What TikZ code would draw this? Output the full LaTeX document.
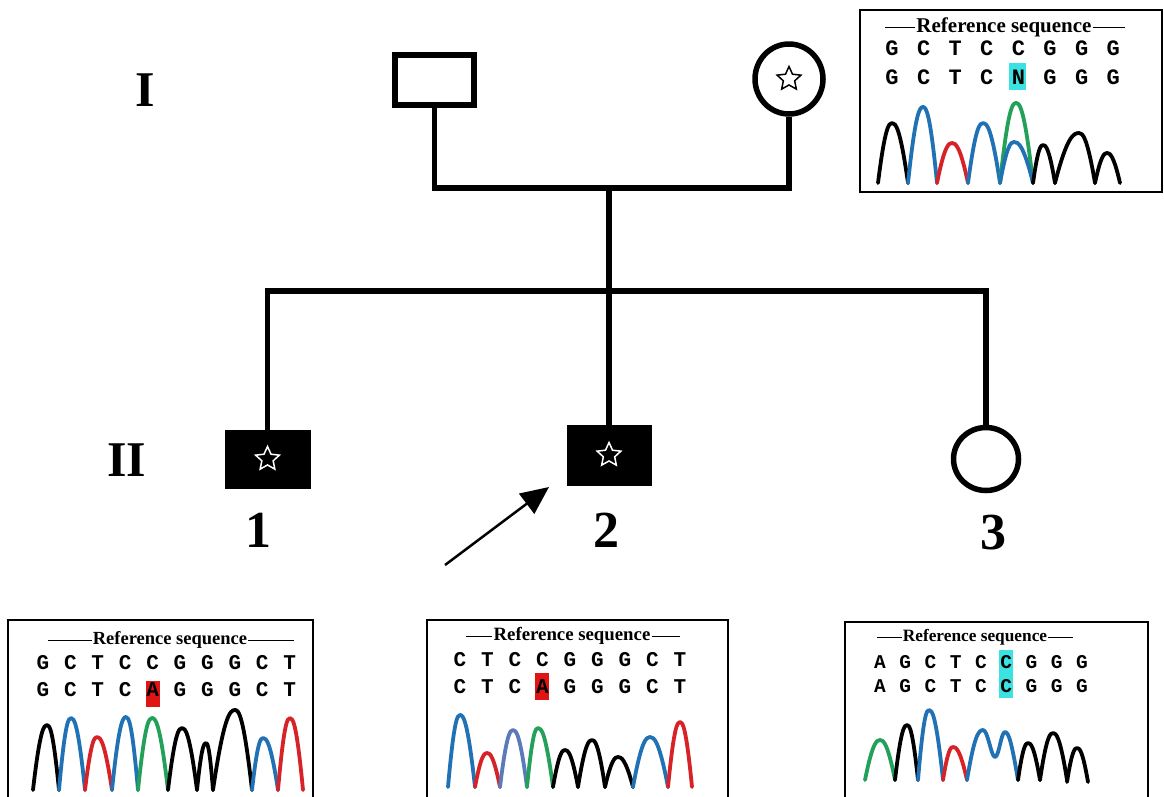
\documentclass[tikz,border=0pt]{standalone}
\usepackage{fontspec}
\setmainfont{Liberation Serif}
\newfontfamily\monof{Liberation Mono}
\usetikzlibrary{shapes.geometric,arrows.meta}
\definecolor{pblue}{RGB}{33,113,181}
\definecolor{pred}{RGB}{215,35,40}
\definecolor{pgreen}{RGB}{35,160,90}
\definecolor{pslate}{RGB}{90,122,185}
\definecolor{hcyan}{RGB}{60,225,225}
\definecolor{hred}{RGB}{225,20,20}
\newcommand\pkpeak[6]{\draw[pkline,#6] (#1,#5) .. controls ({#1+0.5*(#2-#1)},{#4+0.06*(#5-#4)}) and ({#2-0.22*(#2-#1)},#4) .. (#2,#4) .. controls ({#2+0.22*(#3-#2)},#4) and ({#3-0.5*(#3-#2)},{#4+0.06*(#5-#4)}) .. (#3,#5);}
\newcommand\seqrow[6]{\foreach \L [count=\i] in {#6} {\node[seq,#5] (#1\i) at ({#2+(\i-1)*#3},#4) {\L};}}
\begin{document}
\begin{tikzpicture}[x=1pt,y=-1pt,
  ped/.style={line width=5.5pt, line join=miter},
  sqr/.style={draw, line width=6pt, rectangle, minimum width=79pt, minimum height=50pt, inner sep=0pt},
  aff/.style={fill=black, draw=black, rectangle, minimum width=85pt, minimum height=58pt, inner sep=0pt},
  fem/.style={draw, line width=5.5pt, ellipse, inner sep=0pt},
  stardec/.style={star, star points=5, star point ratio=2.1, minimum size=25pt, inner sep=0pt, line width=1.5pt},
  gen/.style={font=\bfseries\fontsize{50}{56}\selectfont, inner sep=0pt},
  panel/.style={line width=1.8pt},
  pkline/.style={line width=3.8pt, line cap=round, line join=round},
  seq/.style={font=\monof\bfseries\fontsize{21}{24}\selectfont, inner sep=0pt},
  ttl/.style={font=\bfseries\fontsize{20}{22}\selectfont, inner sep=1pt},
  rulel/.style={line width=0.9pt}]
\useasboundingbox (0,0) rectangle (1164,796);
\fill[white] (0,0) rectangle (1164,796);

% ---------- pedigree ----------
\node[gen] (gI) at (145,90) {I};
\node[gen] (gII) at (127,460) {II};
\node[sqr] (fa) at (434.5,79.5) {};
\node[fem, minimum width=68pt, minimum height=70pt] (mo) at (789,79) {};
\node[stardec, draw=black] (st0) at (mo) {};
\coordinate (mar) at (609,188);
\coordinate (sib) at (609,291);
\draw[ped] (fa.south) -- (fa.south |- mar) -- (mo.south |- mar) -- (mo.south);
\draw[ped] (mar) -- (sib);

\node[aff] (c1) at (267.5,459) {};
\node[aff, minimum width=84pt, minimum height=60pt] (c2) at (609,455) {};
\node[fem, minimum width=65pt, minimum height=63pt] (c3) at (986,459) {};
\node[stardec, draw=white] (st1) at (c1) {};
\node[stardec, draw=white] (st2) at (c2) {};
\draw[ped] (c1.north) -- (c1.north |- sib) -- (c3.north |- sib) -- (c3.north);
\draw[ped] (sib) -- (c2.north);

\node[gen, font=\bfseries\fontsize{52}{56}\selectfont] (n1) at (258,530) {1};
\node[gen, font=\bfseries\fontsize{52}{56}\selectfont] (n2) at (606,530) {2};
\node[gen, font=\bfseries\fontsize{52}{56}\selectfont] (n3) at (993,533) {3};
\coordinate (arrtail) at (445,565);
\coordinate (arrtip) at (549,487);
\draw[line width=2.5pt, -{Triangle[length=28pt,width=25pt]}] (arrtail) -- (arrtip);

% ---------- panel top right ----------
\draw[panel] (860,10) rectangle (1162,192);
\node[ttl, font=\bfseries\fontsize{21}{22}\selectfont] (t0) at (1004,27) {Reference sequence};
\draw[rulel] (t0.west) -- ++(-30,0);
\draw[rulel] (t0.east) -- ++(32,0);
\fill[hcyan] (1009,63) rectangle (1026,90);
\seqrow{a}{892}{31.6}{48}{font=\monof\bfseries\fontsize{22}{24}\selectfont}{G,C,T,C,C,G,G,G}
\seqrow{b}{892}{31.6}{77}{font=\monof\bfseries\fontsize{22}{24}\selectfont}{G,C,T,C,N,G,G,G}
\pkpeak{878}{892}{908}{123}{183}{black}
\pkpeak{908}{923}{937}{107}{183}{pblue}
\pkpeak{937}{952}{968}{143}{183}{pred}
\pkpeak{968}{983}{1000}{123}{183}{pblue}
\pkpeak{1000}{1016}{1033}{103}{183}{pgreen}
\pkpeak{1000}{1014}{1033}{142}{183}{pblue}
\pkpeak{1033}{1043}{1055}{145}{183}{black}
\pkpeak{1055}{1079}{1095}{133}{183}{black}
\pkpeak{1095}{1107}{1120}{153}{183}{black}

% ---------- panel bottom left ----------
\draw[panel] (8,797) -- (8,620) -- (313,620) -- (313,797);
\node[ttl, font=\bfseries\fontsize{18.5}{22}\selectfont] (t1) at (170,640) {Reference sequence};
\draw[rulel] (t1.west) -- ++(-44,0);
\draw[rulel] (t1.east) -- ++(46,0);
\fill[hred] (146,681) rectangle (160,707);
\seqrow{c}{43}{27.4}{663}{}{G,C,T,C,C,G,G,G,C,T}
\seqrow{d}{43}{27.4}{690}{}{G,C,T,C,A,G,G,G,C,T}
\pkpeak{33}{47}{59}{725}{790}{black}
\pkpeak{59}{71}{85}{718}{790}{pblue}
\pkpeak{85}{97}{112}{737}{790}{pred}
\pkpeak{112}{126}{138}{717}{790}{pblue}
\pkpeak{138}{152}{168}{718}{790}{pgreen}
\pkpeak{168}{182}{197}{728}{790}{black}
\pkpeak{197}{206}{213}{743}{790}{black}
\pkpeak{213}{235}{252}{710}{790}{black}
\pkpeak{252}{263}{278}{738}{790}{pblue}
\pkpeak{278}{290}{303}{718}{790}{pred}

% ---------- panel bottom middle ----------
\draw[panel] (427,797) -- (427,620) -- (728,620) -- (728,797);
\node[ttl, font=\bfseries\fontsize{18.8}{22}\selectfont] (t2) at (572,636) {Reference sequence};
\draw[rulel] (t2.west) -- ++(-26,0);
\draw[rulel] (t2.east) -- ++(28,0);
\fill[hred] (535,673) rectangle (549,700);
\seqrow{e}{460}{27.5}{660}{}{C,T,C,C,G,G,G,C,T}
\seqrow{f}{460}{27.5}{687}{}{C,T,C,A,G,G,G,C,T}
\pkpeak{448}{460}{475}{715}{787}{pblue}
\pkpeak{475}{487}{500}{753}{787}{pred}
\pkpeak{500}{513}{527}{730}{787}{pslate}
\pkpeak{527}{538}{553}{728}{787}{pgreen}
\pkpeak{553}{565}{578}{750}{787}{black}
\pkpeak{578}{592}{605}{740}{787}{black}
\pkpeak{605}{618}{633}{757}{787}{black}
\pkpeak{633}{650}{668}{737}{787}{pblue}
\pkpeak{668}{680}{692}{722}{787}{pred}

% ---------- panel bottom right ----------
\draw[panel] (845,797) -- (845,622) -- (1148,622) -- (1148,797);
\node[ttl, font=\bfseries\fontsize{17.3}{22}\selectfont] (t3) at (975,637) {Reference sequence};
\draw[rulel] (t3.west) -- ++(-25,0);
\draw[rulel] (t3.east) -- ++(25,0);
\fill[hcyan] (999,650) rectangle (1013,698);
\seqrow{g}{880}{25.25}{662}{font=\monof\bfseries\fontsize{19.5}{24}\selectfont}{A,G,C,T,C,C,G,G,G}
\seqrow{h}{880}{25.25}{686}{font=\monof\bfseries\fontsize{19.5}{24}\selectfont}{A,G,C,T,C,C,G,G,G}
\pkpeak{865}{880}{895}{740}{780}{pgreen}
\pkpeak{895}{907}{918}{725}{780}{black}
\pkpeak{918}{929}{943}{710}{780}{pblue}
\pkpeak{943}{953}{967}{747}{780}{pred}
\draw[pkline,pblue] (967,780) .. controls (974,738) and (978,730) .. (983,730) .. controls (988,730) and (991,757) .. (995,757) .. controls (999,757) and (1001,732) .. (1005,732) .. controls (1009,732) and (1012,745) .. (1018,780);
\pkpeak{1018}{1028}{1040}{743}{780}{black}
\pkpeak{1040}{1053}{1067}{733}{780}{black}
\pkpeak{1067}{1077}{1088}{748}{782}{black}
\end{tikzpicture}
\end{document}
